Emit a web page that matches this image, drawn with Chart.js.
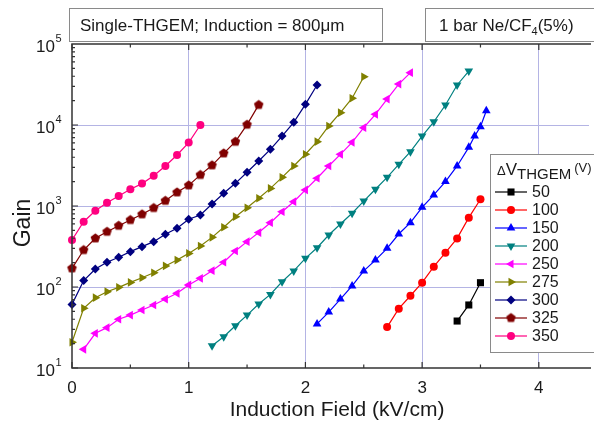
<!DOCTYPE html>
<html>
<head>
    <title>Single-THGEM gain vs induction field</title>
    <script src="https://cdn.jsdelivr.net/npm/chart.js"></script>
    <style>
        body { margin: 0; background: #fff; }
    </style>
</head>
<body>
    <canvas id="myChart" width="594" height="428"></canvas>
    <script>
        // series: delta V_THGEM (V) -> induction field (kV/cm) and gain
        var labels = ['50', '100', '150', '200', '250', '275', '300', '325', '350'];

        var field50 = [3.3, 3.4, 3.5];
        var gain50 = [38, 60, 113];

        var field100 = [2.7, 2.8, 2.9, 3.0, 3.1, 3.2, 3.3, 3.4, 3.5];
        var gain100 = [32, 54, 78, 113, 178, 265, 398, 718, 1210];

        var field150 = [2.1, 2.2, 2.3, 2.4, 2.5, 2.6, 2.7, 2.8, 2.9, 3.0, 3.1, 3.2, 3.3, 3.4, 3.45, 3.5, 3.55];
        var gain150 = [35, 49, 71, 103, 158, 215, 300, 451, 622, 963, 1370, 2000, 3120, 5300, 7300, 9500, 15000];

        var field200 = [1.2, 1.3, 1.4, 1.5, 1.6, 1.7, 1.8, 1.9, 2.0, 2.1, 2.2, 2.3, 2.4, 2.5, 2.6, 2.7, 2.8, 2.9, 3.0, 3.1, 3.2, 3.3, 3.4];
        var gain200 = [18.8, 24.3, 33.2, 45, 61.6, 81, 116, 158, 226, 305, 438, 600, 813, 1150, 1610, 2260, 3270, 4680, 7310, 10960, 17660, 31200, 46400];

        var field250 = [0.1, 0.2, 0.3, 0.4, 0.5, 0.6, 0.7, 0.8, 0.9, 1.0, 1.1, 1.2, 1.3, 1.4, 1.5, 1.6, 1.7, 1.8, 1.9, 2.0, 2.1, 2.2, 2.3, 2.4, 2.5, 2.6, 2.7, 2.8, 2.9];
        var gain250 = [17, 26.8, 31.5, 40, 45, 52, 60, 71, 83.6, 106, 128, 159, 202, 278, 363, 470, 622, 850, 1130, 1580, 2200, 3120, 4340, 6110, 9270, 13550, 20900, 32000, 44300];

        var field275 = [0, 0.1, 0.2, 0.3, 0.4, 0.5, 0.6, 0.7, 0.8, 0.9, 1.0, 1.1, 1.2, 1.3, 1.4, 1.5, 1.6, 1.7, 1.8, 1.9, 2.0, 2.1, 2.2, 2.3, 2.4, 2.5];
        var gain275 = [20.8, 54.6, 73.8, 87.5, 99, 114, 130, 150, 182, 215, 260, 321, 410, 546, 738, 950, 1245, 1650, 2260, 3120, 4350, 6220, 9720, 14200, 21400, 39400];

        var field300 = [0, 0.1, 0.2, 0.3, 0.4, 0.5, 0.6, 0.7, 0.8, 0.9, 1.0, 1.1, 1.2, 1.3, 1.4, 1.5, 1.6, 1.7, 1.8, 1.9, 2.0, 2.1];
        var gain300 = [61, 120, 167, 202, 233, 273, 315, 363, 448, 530, 685, 775, 1060, 1435, 1905, 2610, 3590, 5010, 7310, 10800, 18000, 31200];

        var field325 = [0, 0.1, 0.2, 0.3, 0.4, 0.5, 0.6, 0.7, 0.8, 0.9, 1.0, 1.1, 1.2, 1.3, 1.4, 1.5, 1.6];
        var gain325 = [170, 286, 399, 481, 571, 672, 790, 945, 1160, 1475, 1800, 2420, 3180, 4470, 6220, 10100, 17700];

        var field350 = [0, 0.1, 0.2, 0.3, 0.4, 0.5, 0.6, 0.7, 0.8, 0.9, 1.0, 1.1];
        var gain350 = [380, 640, 875, 1100, 1330, 1610, 1890, 2360, 3120, 4260, 6060, 10000];

        var xTickLabels = ['0', '1', '2', '3', '4'];
        var yTickExponents = ['1', '2', '3', '4', '5'];

        var FONT = '"Liberation Sans", Arial, sans-serif';
        var GRID = '#b4b4e4';
        var AXIS = '#333';

        // Chart.js has no pentagon, so make one
        function makePentagon(color, r) {
            var c = document.createElement('canvas');
            var s = Math.ceil(r * 2 + 3);
            c.width = s; c.height = s;
            var g = c.getContext('2d');
            g.beginPath();
            for (var i = 0; i < 5; i++) {
                var a = -Math.PI / 2 + i * 2 * Math.PI / 5;
                var px = s / 2 + r * Math.cos(a), py = s / 2 + r * Math.sin(a);
                if (i === 0) g.moveTo(px, py); else g.lineTo(px, py);
            }
            g.closePath();
            g.fillStyle = color;
            g.fill();
            return c;
        }
        var pentagon = makePentagon('#800000', 5);

        function pts(xs, ys) {
            return xs.map(function (x, i) { return { x: x, y: ys[i] }; });
        }

        function series(label, xs, ys, color, style, rotation, radius) {
            return {
                label: label,
                data: pts(xs, ys),
                borderColor: color,
                backgroundColor: color,
                borderWidth: 1.2,
                pointStyle: style,
                rotation: rotation,
                pointRadius: radius,
                pointBorderWidth: 0,
                pointHoverRadius: radius,
                tension: 0,
                clip: false
            };
        }

        var datasets = [
            series(labels[0], field50, gain50, '#000000', 'rect', 0, 5),
            series(labels[1], field100, gain100, '#ff0000', 'circle', 0, 4),
            series(labels[2], field150, gain150, '#0000ff', 'triangle', 0, 5),
            series(labels[3], field200, gain200, '#008080', 'triangle', 180, 5),
            series(labels[4], field250, gain250, '#ff00ff', 'triangle', 270, 5),
            series(labels[5], field275, gain275, '#808000', 'triangle', 90, 5),
            series(labels[6], field300, gain300, '#000080', 'rectRot', 0, 4.5),
            series(labels[7], field325, gain325, '#800000', pentagon, 0, 5),
            series(labels[8], field350, gain350, '#ff0080', 'circle', 0, 4)
        ];

        function drawBox(ctx, x, y, w, h) {
            ctx.save();
            ctx.fillStyle = '#fff';
            ctx.fillRect(x, y, w, h);
            ctx.strokeStyle = '#8a8a8a';
            ctx.lineWidth = 1;
            ctx.strokeRect(x + 0.5, y + 0.5, w, h);
            ctx.restore();
        }

        var decorPlugin = {
            id: 'decor',
            afterDraw: function (chart) {
                var ctx = chart.ctx;
                var xs = chart.scales.x, ys = chart.scales.y;
                var area = chart.chartArea;
                ctx.save();

                // frame
                ctx.strokeStyle = AXIS;
                ctx.lineWidth = 1.5;
                ctx.beginPath();
                ctx.moveTo(area.right + 2, area.top);
                ctx.lineTo(area.left, area.top);
                ctx.lineTo(area.left, area.bottom);
                ctx.lineTo(area.right + 2, area.bottom);
                ctx.stroke();

                // x ticks, inward on bottom and top
                ctx.lineWidth = 1.2;
                ctx.beginPath();
                for (var i = 0; i <= 8; i++) {
                    var v = i * 0.5;
                    var px = xs.getPixelForValue(v);
                    var len = (i % 2 === 0) ? 6 : 3.5;
                    ctx.moveTo(px, area.bottom);
                    ctx.lineTo(px, area.bottom - len);
                    ctx.moveTo(px, area.top);
                    ctx.lineTo(px, area.top + len);
                }
                // y ticks, inward on the left
                for (var e = 1; e <= 4; e++) {
                    for (var m = 1; m <= 9; m++) {
                        var py = ys.getPixelForValue(m * Math.pow(10, e));
                        var l = (m === 1) ? 6 : 3;
                        ctx.moveTo(area.left, py);
                        ctx.lineTo(area.left + l, py);
                    }
                }
                ctx.stroke();

                // x tick labels
                ctx.fillStyle = '#1a1a1a';
                ctx.font = '17px ' + FONT;
                ctx.textAlign = 'center';
                ctx.textBaseline = 'middle';
                xTickLabels.forEach(function (t) {
                    ctx.fillText(t, xs.getPixelForValue(Number(t)), area.bottom + 20);
                });

                // y tick labels 10^n
                yTickExponents.forEach(function (ex) {
                    var py = ys.getPixelForValue(Math.pow(10, Number(ex)));
                    ctx.font = '17px ' + FONT;
                    ctx.textAlign = 'right';
                    ctx.textBaseline = 'alphabetic';
                    ctx.fillText('10', 55, py + 8);
                    ctx.font = '11px ' + FONT;
                    ctx.textAlign = 'left';
                    ctx.fillText(ex, 55.5, py - 2);
                });

                // axis titles
                ctx.font = '21px ' + FONT;
                ctx.textAlign = 'center';
                ctx.textBaseline = 'middle';
                ctx.fillText('Induction Field (kV/cm)', 337, 410);
                ctx.save();
                ctx.translate(24, 223);
                ctx.rotate(-Math.PI / 2);
                ctx.font = '23px ' + FONT;
                ctx.fillText('Gain', 0, 0);
                ctx.restore();

                // text boxes
                drawBox(ctx, 69, 8, 313, 33);
                ctx.font = '17px ' + FONT;
                ctx.textAlign = 'left';
                ctx.textBaseline = 'alphabetic';
                ctx.fillStyle = '#1a1a1a';
                ctx.fillText('Single-THGEM; Induction = 800\u03bcm', 80, 31);

                drawBox(ctx, 425, 8, 200, 33);
                var tx = 439;
                ctx.fillText('1 bar Ne/CF', tx, 31);
                tx += ctx.measureText('1 bar Ne/CF').width;
                ctx.font = '11px ' + FONT;
                ctx.fillText('4', tx, 35);
                tx += ctx.measureText('4').width;
                ctx.font = '17px ' + FONT;
                ctx.fillText('(5%)', tx, 31);

                // legend
                drawBox(ctx, 490, 154, 120, 198);
                var lx = 497;
                ctx.font = '13px ' + FONT;
                ctx.fillText('\u0394', lx, 175);
                lx += ctx.measureText('\u0394').width;
                ctx.font = '17px ' + FONT;
                ctx.fillText('V', lx, 175);
                lx += ctx.measureText('V').width;
                ctx.font = '15px ' + FONT;
                ctx.fillText('THGEM', lx, 179);
                lx += ctx.measureText('THGEM').width + 3;
                ctx.font = '13px ' + FONT;
                ctx.fillText('(V)', lx, 172);

                chart.data.datasets.forEach(function (ds, k) {
                    var ry = 192 + k * 18;
                    ctx.strokeStyle = ds.borderColor;
                    ctx.lineWidth = 1.2;
                    ctx.beginPath();
                    ctx.moveTo(495, ry);
                    ctx.lineTo(527, ry);
                    ctx.stroke();
                    ctx.fillStyle = ds.backgroundColor;
                    Chart.helpers.drawPoint(ctx, {
                        pointStyle: ds.pointStyle,
                        rotation: ds.rotation,
                        radius: ds.pointRadius,
                        borderWidth: 0
                    }, 511, ry);
                    ctx.fillStyle = '#1a1a1a';
                    ctx.font = '16px ' + FONT;
                    ctx.textBaseline = 'middle';
                    ctx.fillText(ds.label, 532, ry + 1);
                    ctx.textBaseline = 'alphabetic';
                });

                ctx.restore();
            }
        };

        var ctx = document.getElementById('myChart').getContext('2d');
        var myChart = new Chart(ctx, {
            type: 'line',
            data: { datasets: datasets },
            options: {
                responsive: false,
                animation: false,
                devicePixelRatio: 1,
                layout: { padding: { left: 72, top: 44, right: 0, bottom: 60 } },
                plugins: {
                    legend: { display: false },
                    tooltip: { enabled: false }
                },
                scales: {
                    x: {
                        type: 'linear',
                        min: 0,
                        max: 4.43,
                        border: { display: false },
                        ticks: { display: false, stepSize: 0.5 },
                        grid: {
                            drawTicks: false,
                            lineWidth: 1,
                            color: function (c) {
                                var v = c.tick && c.tick.value;
                                return (v >= 1 && Math.abs(v - Math.round(v)) < 1e-6) ? GRID : 'rgba(0,0,0,0)';
                            }
                        }
                    },
                    y: {
                        type: 'logarithmic',
                        min: 10,
                        max: 100000,
                        border: { display: false },
                        ticks: { display: false },
                        grid: {
                            drawTicks: false,
                            lineWidth: 1,
                            color: function (c) {
                                var v = c.tick && c.tick.value;
                                return (v === 100 || v === 1000 || v === 10000) ? GRID : 'rgba(0,0,0,0)';
                            }
                        }
                    }
                }
            },
            plugins: [decorPlugin]
        });
    </script>
</body>
</html>
